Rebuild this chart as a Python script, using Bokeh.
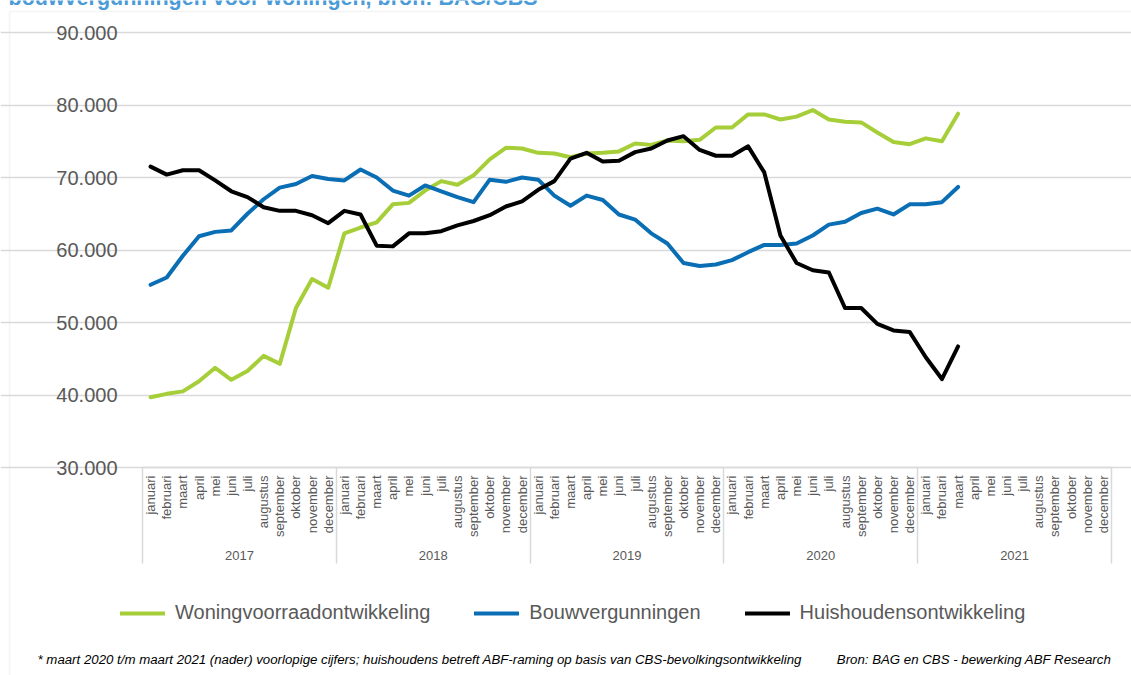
import math
from bokeh.plotting import figure
from bokeh.models import (Range1d, LinearAxis, FixedTicker, CustomJSTickFormatter, Grid,
                          Legend, LegendItem, Label, BoxAnnotation, ColumnDataSource)
from bokeh.embed import file_html
from bokeh.resources import INLINE

# ---------------- data ----------------
month_names = ["januari", "februari", "maart", "april", "mei", "juni", "juli",
               "augustus", "september", "oktober", "november", "december"]
years = ["2017", "2018", "2019", "2020", "2021"]
y_ticks = [30000, 40000, 50000, 60000, 70000, 80000, 90000]

woning = [39700, 40160, 40500, 41900, 43750, 42100, 43300, 45400, 44300, 52000, 56000, 54800,
          62300, 63100, 63800, 66300, 66500, 68200, 69500, 69000, 70300, 72500, 74100, 74000,
          73400, 73300, 72800, 73300, 73400, 73600, 74700, 74500, 75100, 75000, 75200, 76900,
          76900, 78700, 78700, 78000, 78400, 79300, 78000, 77700, 77600, 76200, 74900, 74600,
          75400, 75000, 78800]
bouw = [55200, 56200, 59200, 61900, 62500, 62700, 65000, 67000, 68600, 69100, 70200, 69800,
        69600, 71100, 70000, 68200, 67500, 68900, 68100, 67300, 66600, 69700, 69400, 70000,
        69700, 67500, 66100, 67500, 66900, 64900, 64200, 62300, 60900, 58200, 57800, 58000,
        58600, 59700, 60700, 60700, 60900, 62000, 63500, 63900, 65100, 65700, 64900, 66300,
        66300, 66600, 68700]
huis = [71500, 70400, 71000, 71000, 69600, 68100, 67300, 65900, 65400, 65400, 64800, 63700,
        65400, 64900, 60600, 60500, 62300, 62300, 62600, 63400, 64000, 64800, 66000, 66700,
        68300, 69500, 72600, 73400, 72200, 72300, 73500, 74000, 75100, 75700, 73800, 73000,
        73000, 74300, 70700, 62000, 58200, 57200, 56900, 52000, 52000, 49800, 48900, 48700,
        45200, 42200, 46700]

series_names = ["Woningvoorraadontwikkeling", "Bouwvergunningen", "Huishoudensontwikkeling"]
series_colors = ["#A6CE39", "#0A6EB4", "#000000"]

title_text = "bouwvergunningen voor woningen, bron: BAG/CBS"
note_left = ("* maart 2020 t/m maart 2021 (nader) voorlopige cijfers; huishoudens betreft "
             "ABF-raming op basis van CBS-bevolkingsontwikkeling")
note_right = "Bron: BAG en CBS - bewerking ABF Research"

# ---------------- layout (pixels) ----------------
W, H = 1131, 675
PX_L, PX_R, PX_T, PX_B = 142, 1111, 32, 467     # plot area inside the picture

n_slots = len(years) * len(month_names)
idx = [i + 0.5 for i in range(len(woning))]
y_lo, y_hi = y_ticks[0], y_ticks[-1]

x_per_px = n_slots / (PX_R - PX_L)
y_per_px = (y_hi - y_lo) / (PX_B - PX_T)
x_range = Range1d(-PX_L * x_per_px, n_slots + (W - PX_R) * x_per_px)
y_range = Range1d(y_lo - (H - PX_B) * y_per_px, y_hi + PX_T * y_per_px)


def ydata(py):
    return y_lo - (py - PX_B) * y_per_px


FONT = "Liberation Sans"
GREY_TXT = "#595959"
GRID = "#D9D9D9"

p = figure(width=W, height=H, output_backend="svg", toolbar_location=None, title=None,
           x_range=x_range, y_range=y_range, x_axis_type=None, y_axis_type=None,
           min_border=0)
p.outline_line_color = None
p.background_fill_color = "white"
p.border_fill_color = "white"

# outer frame of the picture
p.add_layout(BoxAnnotation(left=9, right=W + 50, top=H - 11, bottom=-50,
                           left_units="screen", right_units="screen",
                           top_units="screen", bottom_units="screen",
                           fill_alpha=0, line_color=GRID, line_width=1.5))

# grid
yticker = FixedTicker(ticks=y_ticks)
p.add_layout(Grid(dimension=1, ticker=yticker, bounds=(0, n_slots),
                  grid_line_color=GRID, grid_line_width=1.5))

# y axis
yax = LinearAxis(ticker=yticker, fixed_location=0, bounds=(y_lo, y_hi),
                 formatter=CustomJSTickFormatter(code="return (tick/1000).toFixed(0) + '.000';"))
yax.axis_line_color = None
yax.major_tick_line_color = None
yax.minor_tick_line_color = None
yax.major_label_standoff = 19
yax.major_label_text_font = FONT
yax.major_label_text_font_size = "20px"
yax.major_label_text_color = GREY_TXT
p.add_layout(yax, "left")

# month axis (year separators drawn as outward minor ticks)
mticker = FixedTicker(ticks=[i + 0.5 for i in range(n_slots)],
                      minor_ticks=[i * len(month_names) for i in range(len(years) + 1)])
max_ = LinearAxis(ticker=mticker, fixed_location=y_lo, bounds=(0, n_slots),
                  formatter=CustomJSTickFormatter(args=dict(names=month_names),
                                                  code="return names[Math.floor(tick) % 12];"))
max_.axis_line_color = GRID
max_.axis_line_width = 1.5
max_.major_tick_line_color = None
max_.major_tick_out = 0
max_.major_tick_in = 0
max_.minor_tick_in = -96
max_.minor_tick_out = 0
max_.minor_tick_line_color = GRID
max_.minor_tick_line_width = 1.5
max_.major_label_orientation = math.pi / 2
max_.major_label_standoff = 8
max_.major_label_text_font = FONT
max_.major_label_text_font_size = "13px"
max_.major_label_text_color = GREY_TXT
p.add_layout(max_, "below")

# year axis
yrticker = FixedTicker(ticks=[i * 12 + 6 for i in range(len(years))])
yrax = LinearAxis(ticker=yrticker, fixed_location=ydata(542), bounds=(0, n_slots),
                  formatter=CustomJSTickFormatter(args=dict(names=years),
                                                  code="return names[Math.floor(tick / 12)];"))
yrax.axis_line_color = None
yrax.major_tick_line_color = None
yrax.major_tick_out = 0
yrax.major_tick_in = 0
yrax.minor_tick_line_color = None
yrax.major_label_standoff = 8
yrax.major_label_text_font = FONT
yrax.major_label_text_font_size = "13px"
yrax.major_label_text_color = GREY_TXT
p.add_layout(yrax, "below")

# lines
renderers = []
for vals, col in zip([woning, bouw, huis], series_colors):
    src = ColumnDataSource(dict(x=idx, y=vals))
    r = p.line("x", "y", source=src, line_color=col, line_width=4,
               line_join="round", line_cap="round")
    renderers.append(r)

legend = Legend(items=[LegendItem(label=nm, renderers=[r]) for nm, r in zip(series_names, renderers)],
                orientation="horizontal", location=(120, H - 624))
legend.glyph_width = 45
legend.glyph_height = 22
legend.label_standoff = 10
legend.spacing = 44
legend.padding = 0
legend.margin = 0
legend.border_line_color = None
legend.background_fill_alpha = 0
legend.label_text_font = FONT
legend.label_text_font_size = "20px"
legend.label_text_color = GREY_TXT
legend.label_height = 22
p.add_layout(legend, "center")

# footnotes
p.add_layout(Label(x=37, y=H - 659, x_units="screen", y_units="screen", text=note_left,
                   text_font=FONT, text_font_style="italic", text_font_size="13.25px",
                   text_color="#000000", text_baseline="alphabetic"))
p.add_layout(Label(x=PX_R, y=H - 659, x_units="screen", y_units="screen", text=note_right,
                   text_font=FONT, text_font_style="italic", text_font_size="13.25px",
                   text_color="#000000", text_baseline="alphabetic", text_align="right"))

# title (cut off at the top, as in the source picture)
p.add_layout(Label(x=8, y=H + 3, x_units="screen", y_units="screen", text=title_text,
                   text_font=FONT, text_font_style="bold", text_font_size="21.5px",
                   text_color="#4A9BD7", text_baseline="alphabetic"))

open("out.html", "w").write(file_html(p, INLINE))
